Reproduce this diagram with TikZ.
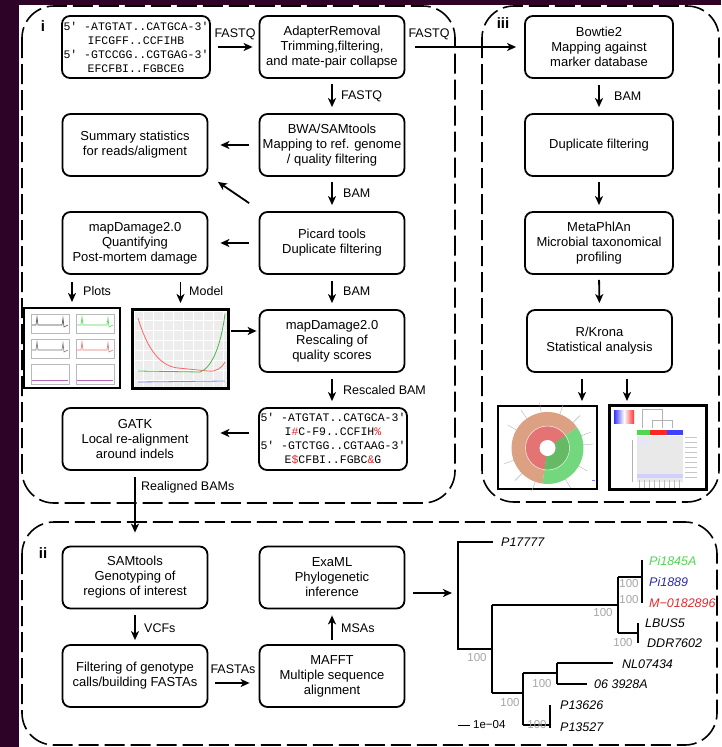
\documentclass[tikz,border=0pt]{standalone}
\usepackage{fontspec}
\setmainfont{Liberation Sans}
\setsansfont{Liberation Sans}
\setmonofont{Liberation Mono}
\usetikzlibrary{arrows.meta}
\definecolor{bgpurple}{RGB}{45,3,40}
\definecolor{seqred}{RGB}{220,40,40}
\definecolor{tgreen}{RGB}{80,215,80}
\definecolor{tblue}{RGB}{45,45,170}
\definecolor{tred}{RGB}{225,45,45}
\definecolor{salmon}{RGB}{220,160,130}
\definecolor{kred}{RGB}{228,115,115}
\definecolor{kgreen}{RGB}{115,215,125}
\begin{document}
\begin{tikzpicture}[x=1pt,y=-1pt,
  box/.style={draw, line width=1.8pt, rounded corners=8pt, minimum width=145pt, minimum height=62pt, align=center, font=\fontsize{13}{15}\selectfont, inner sep=1pt},
  seqbox/.style={box, minimum width=148pt, font=\ttfamily\fontsize{11.5}{14}\selectfont},
  arr/.style={line width=1.8pt, -{Stealth[length=9pt,width=8pt,inset=2.5pt]}},
  lbl/.style={font=\fontsize{12.5}{14}\selectfont, inner sep=0pt},
  panel/.style={line width=1.6pt, dash pattern=on 20pt off 6pt, rounded corners=32pt},
  imgbox/.style={draw, line width=2pt, minimum width=96pt, minimum height=80pt, inner sep=0pt, fill=white},
  tree/.style={line width=1.8pt},
  tip/.style={font=\itshape\fontsize{12.5}{14}\selectfont, anchor=west, inner sep=0pt},
  boot/.style={font=\fontsize{11.5}{13}\selectfont, text=gray!70, inner sep=0pt},
  plab/.style={font=\bfseries\fontsize{15}{16}\selectfont, inner sep=0pt},
  thin gray/.style={gray!55, line width=0.4pt}
]
\useasboundingbox (0,0) rectangle (721,747);
\fill[bgpurple] (0,0) rectangle (721,747);
\fill[white] (19,5) rectangle (721,747);

% panels
\draw[panel] (22,6) rectangle (455,503);
\draw[panel] (482,6) rectangle (719,502);
\draw[panel] (22,522) rectangle (717,745);
\node[plab] (pi) at (43,26) {i};
\node[plab] (piii) at (503,23) {iii};
\node[plab] (pii) at (43,553) {ii};

% panel i nodes
\node[seqbox] (seq1) at (136,47) {5′ -ATGTAT..CATGCA-3′\\IFCGFF..CCFIHB\\5′ -GTCCGG..CGTGAG-3′\\EFCFBI..FGBCEG};
\node[box] (AR) at (332,47) {AdapterRemoval\\Trimming,filtering,\\and mate-pair collapse};
\node[box] (BWA) at (332,145) {BWA/SAMtools\\Mapping to ref. genome\\/ quality filtering};
\node[box] (Summ) at (135,145) {Summary statistics\\for reads/aligment};
\node[box] (Picard) at (332,243) {Picard tools\\Duplicate filtering};
\node[box] (mapDQ) at (135,243) {mapDamage2.0\\Quantifying\\Post-mortem damage};
\node[box] (mapDR) at (332,341) {mapDamage2.0\\Rescaling of\\quality scores};
\node[seqbox] (seq2) at (333,439) {5′ -ATGTAT..CATGCA-3′\\I{\color{seqred}\#}C-F9..CCFIH{\color{seqred}\%}\\5′ -GTCTGG..CGTAAG-3′\\E{\color{seqred}\$}CFBI..FGBC{\color{seqred}\&}G};
\node[box] (GATK) at (135,439) {GATK\\Local re-alignment\\around indels};
\node[imgbox] (plotA) at (72,348) {};
\node[imgbox, minimum width=95pt, minimum height=78pt] (plotB) at (180.5,349) {};

% panel iii nodes
\node[box, minimum width=148pt] (Bow) at (599,47) {Bowtie2\\Mapping against\\marker database};
\node[box, minimum width=148pt] (Dup) at (599,145) {Duplicate filtering};
\node[box, minimum width=148pt] (Meta) at (599,243) {MetaPhlAn\\Microbial taxonomical\\profiling};
\node[box] (RK) at (599.5,341) {R/Krona\\Statistical analysis};
\node[imgbox, minimum width=99pt, minimum height=83pt] (krona) at (547.5,447.5) {};
\node[imgbox, minimum width=96pt, minimum height=83pt] (heat) at (658,447.5) {};

% panel ii nodes
\node[box] (SAMt) at (135,577.5) {SAMtools\\Genotyping of\\regions of interest};
\node[box] (ExaML) at (332,577.5) {ExaML\\Phylogenetic\\inference};
\node[box] (Filt) at (135,676) {Filtering of genotype\\calls/building FASTAs};
\node[box] (MAFFT) at (332,676) {MAFFT\\Multiple sequence\\alignment};

% ---------- plot A content
\foreach \yy/\ca/\cb in {314/black!70/tgreen, 339/black!55/kred}{
  \draw[thin gray] (31,\yy) rectangle (69,\yy+19);
  \draw[thin gray] (76,\yy) rectangle (114,\yy+19);
  \draw[\ca, line width=0.6pt] (32,\yy+11) -- (36,\yy+11) -- (37,\yy+3) -- (38,\yy+11) -- (62,\yy+11) -- (63,\yy+4) -- (64,\yy+13) -- (68,\yy+11);
  \draw[\cb, line width=0.6pt] (77,\yy+11) -- (81,\yy+11) -- (82,\yy+3) -- (83,\yy+11) -- (107,\yy+11) -- (108,\yy+4) -- (109,\yy+13) -- (113,\yy+11);
}
\draw[thin gray] (31,364) rectangle (69,384);
\draw[thin gray] (76,364) rectangle (114,384);
\draw[violet!60, line width=0.7pt] (32,380) -- (68,380);
\draw[violet!60, line width=0.7pt] (77,380) -- (113,380);

% ---------- plot B content
\fill[gray!14] (135,312) rectangle (227,387);
\foreach \xx in {143,153,...,223} \draw[white, line width=0.5pt] (\xx,312) -- (\xx,387);
\foreach \yy in {320,330,...,380} \draw[white, line width=0.5pt] (135,\yy) -- (227,\yy);
\draw[red!60, line width=0.8pt] (138,318) .. controls (146,345) and (158,366) .. (178,368) -- (208,371) .. controls (216,372) and (222,368) .. (225,362);
\draw[green!60!black!70, line width=0.8pt] (138,371) -- (200,372) .. controls (212,368) and (221,345) .. (225,314);
\draw[blue!50, line width=0.8pt] (138,382) -- (225,381);
\draw[line width=2pt] (plotB.north west) rectangle (plotB.south east);

% ---------- krona content
\begin{scope}[shift={(547.5,448)}, yscale=-1]
  \foreach \a in {100,125,150,200,225,250,300,330,5,20,45,70} \draw[gray!60, line width=0.4pt] (\a:30) -- (\a:46);
  \fill[salmon] (0,0) -- (35:36) arc (35:262:36) -- cycle;
  \fill[kgreen] (0,0) -- (-98:36) arc (-98:35:36) -- cycle;
  \fill[kred] (0,0) -- (35:22) arc (35:262:22) -- cycle;
  \fill[green!55!black!60] (0,0) -- (-98:22) arc (-98:35:22) -- cycle;
  \fill[white] (0,0) circle (8);
  \draw[white, line width=0.4pt] (0,0) circle (22);
  \draw[blue!50, line width=1pt] (44,-32) -- (47,-32);
\end{scope}

% ---------- heatmap content
\shade[left color=blue!80, right color=red!80, middle color=white] (614,410) rectangle (634,423);
\draw[gray!60, line width=0.5pt] (642,428) -- (642,409) -- (662,409) -- (662,428);
\draw[gray!60, line width=0.5pt] (652,428) -- (652,420) -- (672,420) -- (672,428);
\fill[tgreen] (637,430) rectangle (650,435);
\fill[red!85] (650,430) rectangle (667,435);
\fill[blue!75] (667,430) rectangle (683,435);
\fill[gray!17] (637,436) rectangle (683,482);
\fill[blue!18] (637,474) rectangle (683,478);
\fill[blue!10] (637,440) rectangle (650,444);
\foreach \yy in {437,442,447,452,457,462,467,472,477} \draw[gray!45, line width=0.4pt] (685,\yy) -- (697,\yy);
\draw[gray!60, line width=0.4pt] (632,440) -- (632,482);
\foreach \xx in {639,644,...,682} \draw[gray!55, line width=0.5pt] (\xx,480) -- (\xx,488);
\draw[line width=2pt] (heat.north west) rectangle (heat.south east);

% ---------- arrows panel i
\draw[arr, shorten <=7pt, shorten >=6pt] (seq1.east) -- (AR.west);
\node[lbl] (l1) at (235,34) {FASTQ};
\draw[arr, shorten <=10pt, shorten >=8pt] (AR.east) -- (Bow.west);
\node[lbl, fill=white, inner sep=1pt] (l2) at (429,34) {FASTQ};
\draw[arr, shorten <=5pt, shorten >=6pt] (AR.south) -- (BWA.north);
\node[lbl, anchor=west] (l3) at (341,96) {FASTQ};
\draw[arr, shorten <=10pt, shorten >=12pt] (BWA.west) -- (Summ.east);
\draw[arr] ([xshift=-9.5pt,yshift=8pt]Picard.north west) -- ([xshift=9.5pt,yshift=-5pt]Summ.south east);
\draw[arr, shorten <=5pt, shorten >=6pt] (BWA.south) -- (Picard.north);
\node[lbl, anchor=west] (l4) at (343,193) {BAM};
\draw[arr, shorten <=10pt, shorten >=12pt] (Picard.west) -- (mapDQ.east);
\draw[arr, shorten <=6pt, shorten >=6pt] (Picard.south) -- (mapDR.north);
\node[lbl, anchor=west] (l5) at (343,291) {BAM};
\draw[arr, shorten <=7pt, shorten >=5pt] (plotA.north |- mapDQ.south) -- (plotA.north);
\node[lbl, anchor=west] (l6) at (83,291) {Plots};
\draw[arr, shorten <=7pt, shorten >=6pt] (plotB.north |- mapDQ.south) -- (plotB.north);
\node[lbl, anchor=west] (l7) at (189,291) {Model};
\coordinate (m1) at ([yshift=10pt]mapDR.west);
\draw[arr, shorten <=2pt, shorten >=2pt] (plotB.east |- m1) -- (m1);
\draw[arr, shorten <=6pt, shorten >=6pt] (mapDR.south) -- (mapDR.south |- seq2.north);
\node[lbl, anchor=west] (l8) at (343,390) {Rescaled BAM};
\coordinate (s2w) at ([yshift=6pt]seq2.west);
\draw[arr, shorten <=9pt, shorten >=12pt] (s2w) -- (GATK.east |- s2w);
\draw[arr, shorten <=6pt, shorten >=13pt] (GATK.south) -- (SAMt.north);
\node[lbl, anchor=west] (l9) at (141,487) {Realigned BAMs};

% ---------- arrows panel iii
\draw[arr, shorten <=6pt, shorten >=6pt] (Bow.south) -- (Dup.north);
\node[lbl, anchor=west] (l10) at (614,96) {BAM};
\draw[arr, shorten <=5pt, shorten >=6pt] (Dup.south) -- (Meta.north);
\draw[arr, shorten <=5pt, shorten >=6pt] (Meta.south) -- (RK.north);
\draw[arr, shorten <=6pt, shorten >=4pt] ([xshift=-17.5pt]RK.south) -- ([xshift=-17.5pt]RK.south |- krona.north);
\draw[arr, shorten <=6pt, shorten >=4pt] ([xshift=27.5pt]RK.south) -- ([xshift=27.5pt]RK.south |- heat.north);

% ---------- arrows panel ii
\draw[arr, shorten <=6pt, shorten >=4pt] (SAMt.south) -- (Filt.north);
\node[lbl, anchor=west] (l11) at (144,628) {VCFs};
\coordinate (fa) at ([yshift=-7pt]MAFFT.west);
\draw[arr, shorten <=7pt, shorten >=9pt] (Filt.east |- fa) -- (fa);
\node[lbl, fill=white, inner sep=1pt] (l12) at (233,669) {FASTAs};
\draw[arr, shorten <=4pt, shorten >=6pt] (MAFFT.north) -- (ExaML.south);
\node[lbl, anchor=west] (l13) at (341,628) {MSAs};
\coordinate (treein) at (452,593);
\draw[arr, shorten <=8pt] (ExaML.east |- treein) -- (treein);

% ---------- tree
\draw[tree] (493,542) -- (458,542) -- (458,649) -- (492,649);
\draw[tree] (492,605) -- (492,693);
\draw[tree] (492,605) -- (618,605);
\draw[tree] (618,577) -- (618,633);
\draw[tree] (618,577) -- (642,577);
\draw[tree] (642,560) -- (642,603);
\draw[tree] (618,633) -- (638,633);
\draw[tree] (638,623) -- (638,643);
\draw[tree] (492,693) -- (523,693);
\draw[tree] (523,673) -- (523,725);
\draw[tree] (523,673) -- (557,673);
\draw[tree] (557,663) -- (557,684);
\draw[tree] (557,663) -- (613,663);
\draw[tree] (557,684) -- (587,684);
\draw[tree] (523,725) -- (550,725);
\draw[tree] (550,705) -- (550,728);
\draw[line width=1pt] (458,725) -- (470,725);

\node[tip] (t1) at (501,542) {P17777};
\node[tip, text=tgreen] (t2) at (649,561) {Pi1845A};
\node[tip, text=tblue] (t3) at (649,582) {Pi1889};
\node[tip, text=tred] (t4) at (649,603) {M−0182896};
\node[tip] (t5) at (645,623) {LBUS5};
\node[tip] (t6) at (647,643) {DDR7602};
\node[tip] (t7) at (622,664) {NL07434};
\node[tip] (t8) at (594,684) {06 3928A};
\node[tip] (t9) at (560,705) {P13626};
\node[tip] (t10) at (560,727) {P13527};

\node[boot] (b1) at (629,584) {100};
\node[boot] (b2) at (629,600) {100};
\node[boot] (b3) at (603,613) {100};
\node[boot] (b4) at (623,643) {100};
\node[boot] (b5) at (477,658) {100};
\node[boot] (b6) at (542,684) {100};
\node[boot] (b7) at (510,703) {100};
\node[boot] (b8) at (537,725) {100};
\node[lbl, anchor=west, font=\fontsize{11.5}{13}\selectfont] (sc) at (473,725) {1e−04};
\end{tikzpicture}
\end{document}
